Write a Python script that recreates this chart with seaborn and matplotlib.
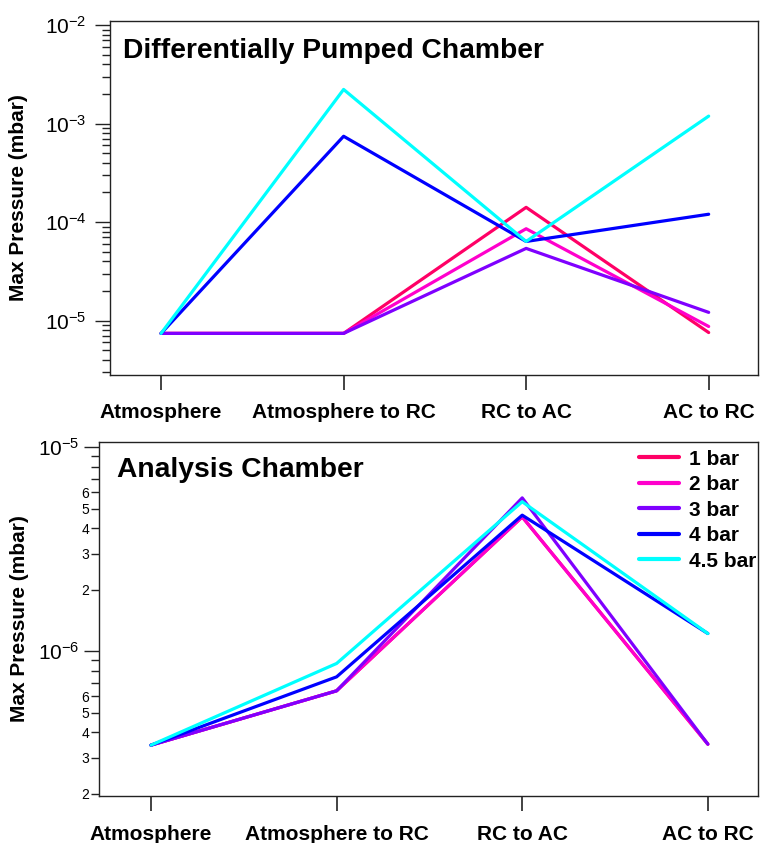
import numpy as np
import pandas as pd
import matplotlib
matplotlib.use("Agg")
import matplotlib.pyplot as plt
import matplotlib.ticker as mticker
import seaborn as sns

# ---------------- data ----------------
steps = ["Atmosphere", "Atmosphere to RC", "RC to AC", "AC to RC"]
series = ["1 bar", "2 bar", "3 bar", "4 bar", "4.5 bar"]
colors = ["#FF0066", "#FF00CC", "#7F00FF", "#0000FF", "#00FFFF"]

dp_1bar = [7.4e-6, 7.4e-6, 1.41e-4, 7.55e-6]
dp_2bar = [7.4e-6, 7.4e-6, 8.55e-5, 8.7e-6]
dp_3bar = [7.4e-6, 7.4e-6, 5.4e-5, 1.21e-5]
dp_4bar = [7.4e-6, 7.43e-4, 6.35e-5, 1.2e-4]
dp_45bar = [7.4e-6, 2.22e-3, 6.35e-5, 1.19e-3]

ac_1bar = [3.46e-7, 6.39e-7, 4.55e-6, 3.5e-7]
ac_2bar = [3.46e-7, 6.39e-7, 4.55e-6, 3.5e-7]
ac_3bar = [3.46e-7, 6.39e-7, 5.64e-6, 3.5e-7]
ac_4bar = [3.46e-7, 7.48e-7, 4.64e-6, 1.22e-6]
ac_45bar = [3.46e-7, 8.7e-7, 5.4e-6, 1.22e-6]

titles = ["Differentially Pumped Chamber", "Analysis Chamber"]
ylabel = "Max Pressure (mbar)"


def long_df(vals):
    rows = []
    for s, v in zip(series, vals):
        for st, p in zip(steps, v):
            rows.append({"step": st, "pos": steps.index(st), "series": s, "p": p})
    return pd.DataFrame(rows)


df_dp = long_df([dp_1bar, dp_2bar, dp_3bar, dp_4bar, dp_45bar])
df_ac = long_df([ac_1bar, ac_2bar, ac_3bar, ac_4bar, ac_45bar])

# ---------------- style ----------------
sns.set_theme(style="white")
plt.rcParams["font.family"] = ["Liberation Sans", "DejaVu Sans"]
plt.rcParams["mathtext.fontset"] = "custom"
plt.rcParams["mathtext.rm"] = "Liberation Sans"
plt.rcParams["mathtext.it"] = "Liberation Sans:italic"
plt.rcParams["mathtext.bf"] = "Liberation Sans:bold"
for k in ["text.color", "axes.labelcolor", "xtick.color", "ytick.color"]:
    plt.rcParams[k] = "black"

fig = plt.figure(figsize=(7.61, 8.43), dpi=100)
ax1 = fig.add_axes([0.1445, 0.5552, 0.996 - 0.1445, 0.9751 - 0.5552])
ax2 = fig.add_axes([0.1301, 0.0558, 0.996 - 0.1301, 0.4757 - 0.0558])

palette = dict(zip(series, colors))

for ax, df, show_leg in [(ax1, df_dp, False), (ax2, df_ac, True)]:
    sns.lineplot(data=df, x="pos", y="p", hue="series", hue_order=series,
                 palette=palette, sort=False, estimator=None, lw=2.3,
                 legend=show_leg, ax=ax)
    ax.set_yscale("log")
    ax.set_xlim(-0.28, 3.27)
    ax.set_xticks(range(len(steps)))
    ax.set_xticklabels(steps, fontsize=15, fontweight="bold")
    ax.set_xlabel("")
    ax.set_ylabel(ylabel, fontsize=15, fontweight="bold")
    for sp in ax.spines.values():
        sp.set_visible(True)
        sp.set_color("#222222")
        sp.set_linewidth(1.0)
    ax.tick_params(axis="x", which="major", direction="out", length=11,
                   width=1.2, color="#222222", pad=9, bottom=True)
    ax.tick_params(axis="y", which="major", direction="out", length=11,
                   width=1.0, color="#222222", labelsize=15, left=True)
    ax.tick_params(axis="y", which="minor", direction="out", length=6,
                   width=1.0, color="#222222", left=True)

# top panel y axis
ax1.set_ylim(2.8e-6, 1.1e-2)
ax1.yaxis.set_major_locator(mticker.LogLocator(base=10, numticks=10))
ax1.yaxis.set_minor_locator(mticker.LogLocator(base=10, subs=np.arange(2, 10), numticks=20))
ax1.yaxis.set_minor_formatter(mticker.NullFormatter())
ax1.tick_params(axis="y", which="major", pad=6)
ax1.yaxis.set_label_coords(-0.1265, 0.5)

# bottom panel y axis
ax2.set_ylim(1.95e-7, 1.06e-5)
ax2.yaxis.set_major_locator(mticker.LogLocator(base=10, numticks=10))
ax2.yaxis.set_minor_locator(mticker.LogLocator(base=10, subs=np.arange(2, 10), numticks=20))


def minor_fmt(v, pos):
    if v <= 0:
        return ""
    lead = int(round(v / 10 ** np.floor(np.log10(v) + 1e-9)))
    return str(lead) if lead in (2, 3, 4, 5, 6) else ""


ax2.yaxis.set_minor_formatter(mticker.FuncFormatter(minor_fmt))
ax2.tick_params(axis="y", which="major", pad=3)
ax2.tick_params(axis="y", which="minor", labelsize=10, pad=1)
ax2.tick_params(axis="x", which="major", pad=10)
ax2.yaxis.set_label_coords(-0.106, 0.5)

# panel titles
ax1.text(0.020, 0.8955, titles[0], transform=ax1.transAxes, fontsize=20.3,
         fontweight="bold", va="baseline", ha="left")
ax2.text(0.0273, 0.901, titles[1], transform=ax2.transAxes, fontsize=20.3,
         fontweight="bold", va="baseline", ha="left")

# legend
leg = ax2.legend(loc="upper right", bbox_to_anchor=(0.998, 0.978), frameon=False,
                 prop={"weight": "bold", "size": 15}, handlelength=1.92,
                 handletextpad=0.48, labelspacing=0.31, borderaxespad=0.0,
                 borderpad=0.0)
for h in leg.get_lines():
    h.set_linewidth(3.0)

fig.savefig("out.png", dpi=100)
